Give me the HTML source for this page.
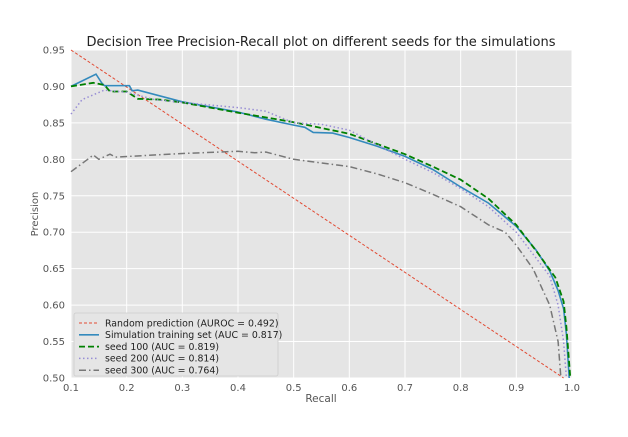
<!DOCTYPE html>
<html><head><meta charset="utf-8"><style>
body{margin:0;background:#fff;font-family:"Liberation Sans","DejaVu Sans",sans-serif}
svg text{font-family:"DejaVu Sans","Liberation Sans",sans-serif}
</style></head><body>
<svg id="chart" width="628" height="432" xmlns="http://www.w3.org/2000/svg">
<text x="321" y="46" text-anchor="middle" font-size="13" fill="#222">Decision Tree Precision-Recall plot on different seeds for the simulations</text>
<rect x="71" y="50" width="501" height="328" fill="#e5e5e5"/>
<g id="grid"></g><g id="ticks"></g><g id="series"></g>
<text x="321" y="402" text-anchor="middle" font-size="10.5" fill="#555">Recall</text>
<text x="0" y="0" transform="translate(38,214) rotate(-90)" text-anchor="middle" font-size="10" fill="#555">Precision</text>
<g id="legend"></g>
</svg>
<script>
const xTicks=[0.1,0.2,0.3,0.4,0.5,0.6,0.7,0.8,0.9,1.0];
const yTicks=[0.50,0.55,0.60,0.65,0.70,0.75,0.80,0.85,0.90,0.95];
const randomX=[0.1,0.985];
const randomY=[0.95,0.5];
const simX=[0.1,0.145,0.155,0.16,0.205,0.21,0.22,0.3,0.4,0.45,0.5,0.52,0.535,0.57,0.6,0.65,0.7,0.75,0.8,0.85,0.9,0.935,0.96,0.975,0.985,0.99,0.995];
const simY=[0.90,0.917,0.905,0.901,0.901,0.894,0.895,0.879,0.865,0.855,0.847,0.844,0.837,0.836,0.83,0.818,0.804,0.786,0.762,0.74,0.708,0.676,0.647,0.62,0.595,0.56,0.5];
const s100X=[0.1,0.14,0.16,0.17,0.2,0.22,0.26,0.3,0.4,0.5,0.55,0.6,0.7,0.75,0.8,0.85,0.9,0.94,0.97,0.985,0.99,0.997];
const s100Y=[0.90,0.905,0.902,0.893,0.893,0.883,0.882,0.878,0.864,0.851,0.843,0.835,0.807,0.79,0.772,0.746,0.71,0.67,0.638,0.605,0.57,0.5];
const s200X=[0.1,0.12,0.16,0.2,0.25,0.3,0.4,0.45,0.5,0.55,0.6,0.65,0.7,0.75,0.8,0.85,0.9,0.93,0.96,0.975,0.985,0.99];
const s200Y=[0.862,0.882,0.895,0.892,0.882,0.878,0.871,0.866,0.85,0.848,0.84,0.82,0.8,0.782,0.76,0.735,0.7,0.67,0.64,0.6,0.55,0.5];
const s300X=[0.1,0.13,0.14,0.15,0.17,0.18,0.3,0.4,0.43,0.45,0.5,0.6,0.65,0.7,0.75,0.8,0.85,0.88,0.9,0.93,0.96,0.975,0.98];
const s300Y=[0.783,0.8,0.806,0.8,0.807,0.803,0.808,0.811,0.809,0.81,0.8,0.79,0.78,0.768,0.752,0.735,0.71,0.7,0.682,0.65,0.6,0.55,0.5];
const legendLabels=["Random prediction (AUROC = 0.492)","Simulation training set (AUC = 0.817)","seed 100 (AUC = 0.819)","seed 200 (AUC = 0.814)","seed 300 (AUC = 0.764)"];
const NS="http://www.w3.org/2000/svg";
const X0=71,X1=572,Y0=378,Y1=50;
const sx=v=>X0+(v-0.1)/0.9*(X1-X0);
const sy=v=>Y0-(v-0.5)/0.45*(Y0-Y1);
function mk(t,a,p){const e=document.createElementNS(NS,t);for(const k in a)e.setAttribute(k,a[k]);p.appendChild(e);return e;}
const grid=document.getElementById('grid'),ticks=document.getElementById('ticks');
xTicks.forEach(v=>{
 const l=mk('line',{x1:sx(v),x2:sx(v),y1:Y1,y2:Y0,stroke:'#fff','stroke-width':1},grid);
 
 
 const t=mk('text',{x:sx(v),y:Y0+13,'text-anchor':'middle','font-size':10,fill:'#555'},ticks);
 t.textContent=v.toFixed(1);
 
 
});
yTicks.forEach(v=>{
 const l=mk('line',{x1:X0,x2:X1,y1:sy(v),y2:sy(v),stroke:'#fff','stroke-width':1},grid);
 
 
 const t=mk('text',{x:X0-6,y:sy(v)+3.5,'text-anchor':'end','font-size':10,fill:'#555'},ticks);
 t.textContent=v.toFixed(2);
 
 
});
const styles=[
 {stroke:'#e24a33',w:1,dash:'3,2'},
 {stroke:'#348abd',w:1.6,dash:''},
 {stroke:'#008000',w:1.8,dash:'6,3'},
 {stroke:'#988ed5',w:1.5,dash:'1.5,2.5'},
 {stroke:'#777777',w:1.5,dash:'7,3,1.5,3'}];
const names=['random-line','simulation-line','seed100-line','seed200-line','seed300-line'];
const data=[[randomX,randomY],[simX,simY],[s100X,s100Y],[s200X,s200Y],[s300X,s300Y]];
const sg=document.getElementById('series');
data.forEach((d,i)=>{
 const pts=d[0].map((x,j)=>sx(x).toFixed(1)+','+sy(d[1][j]).toFixed(1)).join(' ');
 const s=styles[i];
 const p=mk('polyline',{points:pts,fill:'none',stroke:s.stroke,'stroke-width':s.w,'stroke-dasharray':s.dash},sg);
 
 
});
const lg=document.getElementById('legend');
mk('rect',{x:74,y:313,width:204,height:63,fill:'#e5e5e5',stroke:'#ccc','stroke-width':0.8,rx:2},lg);
legendLabels.forEach((lab,i)=>{
 const y=323+i*11.8,s=styles[i];
 const ln=mk('line',{x1:79,x2:99,y1:y,y2:y,stroke:s.stroke,'stroke-width':s.w,'stroke-dasharray':s.dash},lg);
 
 
 const t=mk('text',{x:105,y:y+3.3,'font-size':9.4,fill:'#222'},lg);
 t.textContent=lab;
 
 
});
</script>
</body></html>
